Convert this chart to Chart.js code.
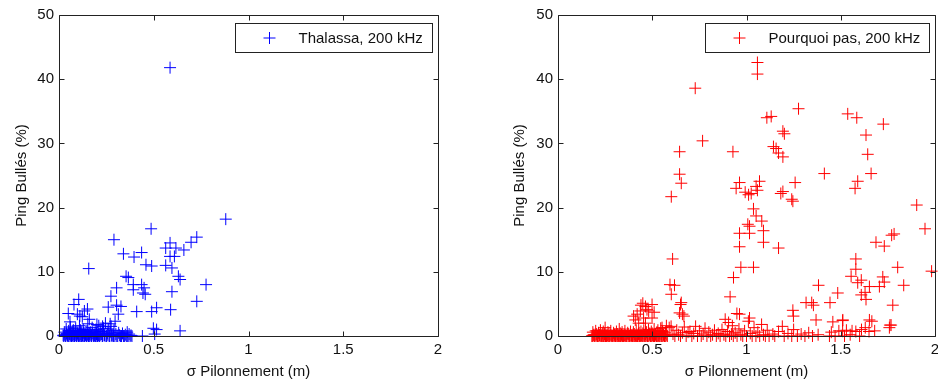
<!DOCTYPE html>
<html><head><meta charset="utf-8">
<script src="https://cdn.jsdelivr.net/npm/chart.js@4.4.1/dist/chart.umd.min.js"></script>
<style>
html,body{margin:0;padding:0;overflow:hidden;background:#fff;width:938px;height:383px;position:relative}
#cl{position:absolute;left:0;top:0}
#cr{position:absolute;left:469px;top:0}
</style>
</head><body>
<canvas id="cl" width="469" height="383"></canvas>
<canvas id="cr" width="480" height="383"></canvas>
<script>
// ---- data ----
const xTicks = [0, 0.5, 1, 1.5, 2];
const yTicks = [0, 10, 20, 30, 40, 50];
const xTitle = "σ Pilonnement (m)";
const yTitle = "Ping Bullés (%)";
const labelThalassa = "Thalassa, 200 kHz";
const labelPourquoi = "Pourquoi pas, 200 kHz";

const thalassaHigh = [
[0.586,41.8],[0.88,18.2],[0.486,16.7],[0.29,15.0],[0.727,15.4],[0.697,14.6],[0.586,14.5],
[0.563,13.7],[0.617,13.7],[0.659,13.4],[0.34,12.8],[0.436,13.0],[0.396,12.3],[0.586,12.4],
[0.609,12.4],[0.459,11.1],[0.489,10.9],[0.563,11.0],[0.596,10.6],[0.157,10.5],[0.63,9.3],
[0.639,8.8],[0.354,9.3],[0.366,9.1],[0.392,8.0],[0.436,8.0],[0.776,8.0],[0.304,7.5],
[0.449,7.5],[0.392,7.2],[0.443,6.7],[0.596,6.9],[0.455,6.5],[0.274,6.2],[0.727,5.4],
[0.104,5.7],[0.079,4.9],[0.304,4.8],[0.327,4.6],[0.26,4.5],[0.15,4.2],[0.134,3.9],
[0.515,4.4],[0.41,3.8],[0.489,3.8],[0.589,4.1],[0.049,3.5],[0.097,3.4],[0.313,3.4],
[0.123,3.0],[0.16,2.6],[0.296,2.3],[0.498,1.2],[0.515,1.0],[0.639,0.8],[0.058,2.2],
[0.11,3.1],[0.2,1.8],[0.23,1.5],[0.27,1.9]
];
const thalassaLow = [
[0.022,0.1],[0.028,0.6],[0.033,0],[0.038,1.1],[0.042,0.2],[0.047,0],[0.051,0.8],[0.055,0.3],
[0.06,1.4],[0.064,0],[0.068,0.5],[0.072,0.1],[0.076,0.9],[0.08,0],[0.084,0.4],[0.088,1.2],
[0.092,0],[0.096,0.2],[0.1,0.7],[0.104,0],[0.108,1.6],[0.112,0.3],[0.116,0],[0.12,0.6],
[0.124,0.1],[0.128,1.0],[0.132,0],[0.136,0.4],[0.14,0.2],[0.144,0],[0.148,0.8],[0.152,1.9],
[0.156,0],[0.16,0.3],[0.165,0.6],[0.17,0],[0.175,1.3],[0.18,0.1],[0.185,0],[0.19,0.5],
[0.195,1.0],[0.2,0],[0.205,0.2],[0.21,1.6],[0.215,0],[0.22,0.7],[0.225,0.3],[0.23,0],
[0.235,1.2],[0.24,0.1],[0.245,2.0],[0.25,0],[0.255,0.4],[0.26,1.1],[0.265,0],[0.27,0.6],
[0.275,1.5],[0.28,0],[0.285,0.2],[0.29,0.9],[0.295,0],[0.3,0.3],[0.31,0],[0.315,0.5],
[0.32,0.1],[0.33,0],[0.335,0.4],[0.34,0],[0.35,0.2],[0.355,0],[0.36,0.6],[0.365,0],
[0.37,0.3],[0.375,0],[0.38,0.1],[0.385,0],[0.44,0],[0.505,0.3],
[0.025,0],[0.03,0.2],[0.036,0],[0.04,0.4],[0.045,0.1],[0.049,0],[0.053,0.5],[0.058,0],
[0.062,0.2],[0.066,0],[0.07,0.8],[0.074,0],[0.078,0.3],[0.082,0],[0.086,0.1],[0.09,0.6],
[0.094,0],[0.098,0.4],[0.102,0],[0.106,0.1],[0.11,0],[0.114,0.9],[0.118,0],[0.122,0.3],
[0.126,0],[0.13,0.5],[0.134,0],[0.138,0.1],[0.142,0.7],[0.146,0],[0.15,0.2],[0.154,0],
[0.158,0.5],[0.162,0],[0.168,0.2],[0.172,0],[0.178,0.4],[0.183,0],[0.188,0.1],[0.193,0],
[0.198,0.3],[0.203,0],[0.208,0.1],[0.212,0],[0.218,0.2],[0.228,0],[0.238,0.1],[0.248,0],
[0.258,0.1],[0.268,0],[0.278,0.1],[0.288,0],[0.305,0],[0.325,0],[0.345,0],[0.36,0]
];

const pourquoiHigh = [
[1.058,42.6],[1.058,40.8],[0.728,38.6],[1.276,35.4],[1.537,34.6],[1.585,34.0],[1.108,34.0],
[1.131,34.2],[1.726,33.0],[1.193,31.9],[1.201,31.5],[1.634,31.3],[0.767,30.4],[1.143,29.5],
[1.157,29.2],[0.645,28.7],[0.928,28.7],[1.17,28.5],[1.643,28.3],[1.193,27.9],[0.645,25.2],
[1.413,25.3],[1.661,25.3],[0.654,23.8],[1.59,24.1],[1.576,23.0],[0.963,23.9],[0.945,23.0],
[1.069,24.1],[1.051,23.3],[1.058,22.7],[0.993,22.4],[1.011,22.0],[1.025,22.2],[1.258,23.9],
[1.193,22.5],[1.182,22.2],[1.24,21.3],[1.246,21.0],[0.601,21.7],[1.903,20.4],[1.037,19.8],
[1.051,18.7],[1.007,17.4],[1.016,17.1],[1.081,17.9],[1.09,16.4],[1.947,16.7],[0.963,16.0],
[1.016,16.0],[1.77,15.7],[1.783,15.9],[1.687,14.6],[1.731,14.0],[1.09,14.6],[0.963,13.9],
[1.17,13.7],[0.608,12.0],[1.58,12.0],[1.58,10.4],[0.97,10.7],[1.037,10.7],[1.802,10.7],
[1.982,10.1],[1.555,9.3],[1.723,9.2],[0.931,9.1],[1.609,8.7],[1.59,8.3],[1.731,8.4],
[1.705,7.7],[1.652,7.7],[1.834,7.9],[1.382,7.9],[0.594,8.0],[0.618,7.9],[0.601,6.5],
[1.484,6.7],[1.629,6.8],[1.609,6.4],[1.634,5.7],[0.913,6.1],[1.316,5.2],[1.346,5.2],
[1.355,4.8],[1.443,5.2],[1.776,4.8],[0.654,5.2],[0.645,3.6],[0.668,3.1],[1.246,4.0],
[1.249,3.1],[0.949,3.5],[0.963,3.4],[1.369,2.5],[1.458,2.2],[1.511,2.5],[1.652,2.5],
[1.767,1.7],[1.758,1.3],[0.887,2.6],[1.016,2.8]
];
const pourquoiMid = [
[0.464,4.6],[0.499,4.9],[0.437,3.9],[0.481,3.9],[0.401,3.1],[0.454,2.8],[0.499,2.8],
[0.428,2.0],[0.464,2.0],[0.42,3.4],[0.45,5.1],[0.472,4.1],[0.51,3.7],[0.44,4.8],[0.41,2.5],
[0.65,4.9],[0.66,3.4],[0.552,1.3],[0.6,1.5],[0.66,0.5],[0.7,0.7]
];
const pourquoiLow = [
[0.18,0],[0.185,0.6],[0.19,0.2],[0.195,0],[0.2,0.8],[0.205,0.3],[0.21,0],[0.215,0.5],
[0.22,0.1],[0.225,0.9],[0.23,0],[0.235,0.4],[0.24,0.7],[0.245,0],[0.25,1.3],[0.255,0.2],
[0.26,0],[0.265,0.6],[0.27,0.3],[0.275,0],[0.28,0.8],[0.285,0.1],[0.29,0],[0.295,0.5],
[0.3,0.2],[0.305,0],[0.31,0.7],[0.315,0.3],[0.32,0],[0.325,1.1],[0.33,0.4],[0.335,0],
[0.34,0.6],[0.345,0.1],[0.35,0],[0.355,0.8],[0.36,0.2],[0.365,0],[0.37,0.5],[0.375,0.3],
[0.38,0],[0.385,0.7],[0.39,0.1],[0.395,0],[0.4,0.6],[0.405,0.3],[0.41,0],[0.415,0.9],
[0.42,0.2],[0.425,0],[0.43,0.5],[0.435,0.1],[0.44,0.7],[0.445,0],[0.45,0.4],[0.455,0.9],
[0.46,0],[0.465,0.3],[0.47,0.6],[0.475,0],[0.48,1.0],[0.485,0.2],[0.49,0],[0.495,0.7],
[0.5,0.4],[0.505,0],[0.51,1.1],[0.515,0.3],[0.52,0],[0.525,0.6],[0.53,0.9],[0.535,0],
[0.54,0.4],[0.545,1.2],[0.55,0],[0.555,0.7],[0.56,0.2],[0.565,0],[0.57,0.5],[0.575,1.6],
[0.58,0],
[0.182,0],[0.187,0.1],[0.192,0],[0.197,0.2],[0.202,0],[0.207,0.1],[0.212,0],[0.217,0],
[0.222,0.2],[0.227,0],[0.232,0.1],[0.237,0],[0.242,0],[0.247,0.3],[0.252,0],[0.257,0],
[0.262,0.1],[0.267,0],[0.272,0],[0.277,0.2],[0.282,0],[0.287,0],[0.292,0.1],[0.297,0],
[0.302,0],[0.307,0.2],[0.312,0],[0.317,0],[0.322,0.1],[0.327,0],[0.332,0],[0.337,0.2],
[0.342,0],[0.347,0],[0.352,0.1],[0.357,0],[0.362,0],[0.367,0.3],[0.372,0],[0.377,0],
[0.382,0.1],[0.387,0],[0.392,0],[0.397,0.2],[0.402,0],[0.407,0],[0.412,0.1],[0.417,0],
[0.422,0],[0.427,0.3],[0.432,0],[0.437,0],[0.442,0.1],[0.447,0],[0.452,0],[0.457,0.2],
[0.462,0],[0.467,0],[0.472,0.1],[0.477,0],[0.482,0],[0.487,0.4],[0.492,0],[0.497,0],
[0.502,0.1],[0.507,0],[0.512,0],[0.517,0.2],[0.522,0],[0.527,0],[0.532,0.1],[0.537,0],
[0.542,0],[0.547,0.3],[0.552,0],[0.557,0],[0.562,0.1],[0.567,0],[0.572,0],[0.577,0.2],
[0.59,1.3],[0.61,0.3],[0.62,0],[0.63,0.9],[0.64,0.2],[0.65,0],[0.67,1.4],[0.68,0],
[0.69,0.6],[0.71,0],[0.72,0.4],[0.73,1.5],[0.74,0],[0.75,0.8],[0.76,0],[0.77,0.3],
[0.78,1.2],[0.79,0],[0.8,0.6],[0.81,0],[0.82,0.2],[0.83,0.9],[0.84,0],[0.85,0.4],
[0.86,0],[0.87,1.0],[0.88,0.2],[0.89,0],[0.9,0.7],[0.905,2.1],[0.91,0],[0.92,0.3],
[0.925,1.6],[0.93,0],[0.94,0.5],[0.95,0],[0.96,1.1],[0.97,0.2],[0.98,0],[0.99,0.8],
[1.0,0],[1.01,2.3],[1.02,0.4],[1.03,0],[1.04,1.3],[1.05,0],[1.06,0.6],[1.07,0],
[1.08,1.8],[1.09,0.2],[1.1,0],[1.11,0.9],[1.12,0],[1.14,0.3],[1.15,0],[1.17,0.7],
[1.19,1.5],[1.2,0],[1.22,0.4],[1.24,0],[1.25,1.0],[1.27,0],[1.29,0.3],[1.31,0],
[1.33,0.5],[1.35,0],[1.38,0.2],[1.44,0],[1.45,0.6],[1.47,0],[1.49,0.8],[1.51,0.75],
[1.53,0.9],[1.56,0.8],[1.58,0.7],[1.61,1.0],[1.63,1.3],[1.665,2.3],[1.65,0.7],[1.68,0.8],
[1.761,1.7],[1.51,2.4],[1.52,0],[1.55,0.2],[1.6,0]
];

// ---- rendering ----
const FONT = {family: "'Liberation Sans', Arial, Helvetica, sans-serif", size: 15};
const TXT = '#111';
const toPts = arr => arr.map(p => ({x: p[0], y: p[1]}));

const framePlugin = {
  id: 'frame',
  afterDatasetsDraw(chart) {
    const {ctx, chartArea: a, scales} = chart;
    ctx.save();
    ctx.strokeStyle = '#222';
    ctx.lineWidth = 1;
    ctx.beginPath();
    const L = Math.round(a.left) + 0.5, R = Math.round(a.right) + 0.5;
    const T = Math.round(a.top) + 0.5, B = Math.round(a.bottom) + 0.5;
    ctx.rect(L, T, R - L, B - T);
    const tl = 5;
    scales.x.ticks.forEach(t => {
      const px = Math.round(scales.x.getPixelForValue(t.value)) + 0.5;
      ctx.moveTo(px, B); ctx.lineTo(px, B - tl);
      ctx.moveTo(px, T); ctx.lineTo(px, T + tl);
    });
    scales.y.ticks.forEach(t => {
      const py = Math.round(scales.y.getPixelForValue(t.value)) + 0.5;
      ctx.moveTo(L, py); ctx.lineTo(L + tl, py);
      ctx.moveTo(R, py); ctx.lineTo(R - tl, py);
    });
    ctx.stroke();
    // legend inside the axes
    const ds = chart.data.datasets[0];
    ctx.font = `${FONT.size}px ${FONT.family}`;
    const tw = ctx.measureText(ds.label).width;
    const bR = Math.round(a.right - 6) + 0.5;
    const bL = Math.round(bR - tw - 73) + 0.5;
    const bT = Math.round(a.top + 8) + 0.5;
    const bH = 29;
    ctx.fillStyle = '#fff';
    ctx.fillRect(bL, bT, bR - bL, bH);
    ctx.strokeStyle = '#222';
    ctx.strokeRect(bL, bT, bR - bL, bH);
    const mx = bL + 34, my = bT + bH / 2;
    ctx.strokeStyle = ds.borderColor;
    ctx.beginPath();
    ctx.moveTo(mx - 6, my); ctx.lineTo(mx + 6, my);
    ctx.moveTo(mx, my - 6); ctx.lineTo(mx, my + 6);
    ctx.stroke();
    ctx.fillStyle = TXT;
    ctx.textBaseline = 'middle';
    ctx.textAlign = 'left';
    ctx.fillText(ds.label, bL + 63, my + 1);
    ctx.restore();
  }
};

function makeChart(id, label, color, points, geom) {
  return new Chart(document.getElementById(id), {
    type: 'scatter',
    data: {datasets: [{
      label: label, data: toPts(points),
      pointStyle: 'cross', pointRadius: 6, pointHoverRadius: 6,
      borderColor: color, backgroundColor: color, pointBorderWidth: 1, borderWidth: 1,
      clip: false
    }]},
    options: {
      responsive: false, animation: false, devicePixelRatio: 1,
      events: [],
      layout: {padding: {left: 0, right: geom.padRight, top: 15, bottom: 0}},
      plugins: {legend: {display: false}, tooltip: {enabled: false}},
      scales: {
        x: {
          type: 'linear', min: 0, max: 2,
          afterBuildTicks: s => { s.ticks = xTicks.map(v => ({value: v})); },
          afterFit: s => { s.height = 47; s.paddingLeft = 0; s.paddingRight = 0; },
          grid: {display: false, drawTicks: false},
          border: {display: false},
          ticks: {font: FONT, color: TXT, padding: 5, maxRotation: 0, autoSkip: false,
                  callback: v => String(v)},
          title: {display: true, text: xTitle, font: FONT, color: TXT, padding: {top: 0, bottom: 2}}
        },
        y: {
          type: 'linear', min: 0, max: 50,
          afterBuildTicks: s => { s.ticks = yTicks.map(v => ({value: v})); },
          afterFit: s => { s.width = geom.yWidth; s.paddingTop = 0; s.paddingBottom = 0; },
          grid: {display: false, drawTicks: false},
          border: {display: false},
          ticks: {font: FONT, color: TXT, padding: 5, autoSkip: false, callback: v => String(v)},
          title: {display: true, text: yTitle, font: FONT, color: TXT,
                  padding: {top: geom.yTitleOff, bottom: 0}}
        }
      }
    },
    plugins: [framePlugin]
  });
}

makeChart('cl', labelThalassa, '#0000ff', thalassaLow.concat(thalassaHigh),
  {padRight: 31, yWidth: 59, yTitleOff: 12.6});
makeChart('cr', labelPourquoi, '#ff0000', pourquoiLow.concat(pourquoiMid, pourquoiHigh),
  {padRight: 14, yWidth: 89, yTitleOff: 41.6});
</script>
</body></html>
